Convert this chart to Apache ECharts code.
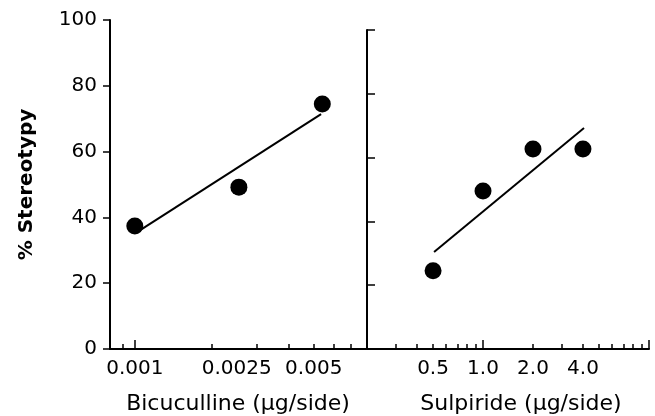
<!DOCTYPE html>
<html>
<head>
<meta charset="utf-8">
<title>% Stereotypy</title>
<script src="https://cdn.jsdelivr.net/npm/echarts@6/dist/echarts.min.js"></script>
<style>html,body{margin:0;background:#fff}#main{width:655px;height:416px}</style>
</head>
<body>
<div id="main"></div>
<script>
// bicuculline panel
var bicDose = [0.001, 0.00255, 0.0054];
var bicStereo = [37.4, 49.2, 74.5];
var bicFitDose = [0.00101, 0.00534];
var bicFitStereo = [35.3, 71.4];
var bicLabels = [0.001, 0.0025, 0.005];
var bicMinorTicks = [0.0009, 0.002, 0.003, 0.004, 0.005, 0.006, 0.007];
var bicMajorTicks = [0.001];
// sulpiride panel
var sulDose = [0.5, 1.0, 2.0, 4.0];
var sulStereo = [24.5, 49.5, 62.7, 62.7];
var sulFitDose = [0.507, 4.06];
var sulFitStereo = [30.4, 69.3];
var sulLabels = [0.5, 1.0, 2.0, 4.0];
var sulMinorTicks = [0.3, 0.4, 0.5, 0.6, 0.7, 0.8, 0.9, 2, 3, 4, 5, 6, 7, 8, 9];
var sulMajorTicks = [1, 10];

var FONT = 'DejaVu Sans';

function pairs(xs, ys) {
	var out = [];
	for (var i = 0; i < xs.length; i++) {
		out.push([xs[i], ys[i]]);
	}
	return out;
}

// x axis with line, labels and short ticks
function mainX(grid, min, max, labels, ticks, fmt) {
	return {
		type: 'log', logBase: 10, gridIndex: grid, min: min, max: max, position: 'bottom',
		axisLine: {show: true, lineStyle: {color: '#000', width: 2}},
		axisTick: {show: true, inside: true, length: 5, customValues: ticks,
			lineStyle: {color: '#000', width: 1.5}},
		axisLabel: {show: true, customValues: labels, margin: 10, color: '#000',
			fontFamily: FONT, fontSize: 20, formatter: fmt},
		splitLine: {show: false}
	};
}
// overlay axis only for the long ticks
function majorX(grid, min, max, ticks) {
	return {
		type: 'log', logBase: 10, gridIndex: grid, min: min, max: max, position: 'bottom',
		axisLine: {show: false},
		axisTick: {show: true, inside: true, length: 9, customValues: ticks,
			lineStyle: {color: '#000', width: 1.5}},
		axisLabel: {show: false},
		splitLine: {show: false}
	};
}

var chart = echarts.init(document.getElementById('main'), null, {renderer: 'canvas'});

var option = {
	backgroundColor: '#fff',
	animation: false,
	grid: [
		{left: 110, top: 20, width: 256, height: 329, containLabel: false, outerBoundsMode: 'none'},
		{left: 367, top: 30, width: 282, height: 319, containLabel: false, outerBoundsMode: 'none'}
	],
	xAxis: [
		Object.assign(mainX(0, 0.0008, 0.008, bicLabels, bicMinorTicks, function (v) {
			return String(+v.toPrecision(2));
		}), {
			name: 'Bicuculline (\u03bcg/side)', nameLocation: 'middle', nameGap: 44,
			nameTextStyle: {color: '#000', fontFamily: FONT, fontSize: 22}
		}),
		majorX(0, 0.0008, 0.008, bicMajorTicks),
		Object.assign(mainX(1, 0.2, 10, sulLabels, sulMinorTicks, function (v) {
			return (+v).toFixed(1);
		}), {
			name: 'Sulpiride (\u03bcg/side)', nameLocation: 'middle', nameGap: 44,
			nameTextStyle: {color: '#000', fontFamily: FONT, fontSize: 22, padding: [0, 0, 0, 26]}
		}),
		majorX(1, 0.2, 10, sulMajorTicks)
	],
	yAxis: [
		{
			type: 'value', gridIndex: 0, min: 0, max: 100, interval: 20,
			name: '% Stereotypy', nameLocation: 'middle', nameGap: 73, nameRotate: 90,
			nameTextStyle: {color: '#000', fontFamily: FONT, fontSize: 20, fontWeight: 'bold'},
			axisLine: {show: true, lineStyle: {color: '#000', width: 2}},
			axisTick: {show: true, length: 7, lineStyle: {color: '#000', width: 1.5}},
			axisLabel: {color: '#000', fontFamily: FONT, fontSize: 20, margin: 13},
			splitLine: {show: false}
		},
		{
			type: 'value', gridIndex: 1, min: 0, max: 100, interval: 20,
			axisLine: {show: true, lineStyle: {color: '#000', width: 2}},
			axisTick: {show: true, inside: true, length: 8, lineStyle: {color: '#000', width: 1.5}},
			axisLabel: {show: false},
			splitLine: {show: false}
		}
	],
	series: [
		{
			type: 'scatter', xAxisIndex: 0, yAxisIndex: 0,
			symbol: 'circle', symbolSize: 17,
			itemStyle: {color: '#000', opacity: 1},
			data: pairs(bicDose, bicStereo)
		},
		{
			type: 'line', xAxisIndex: 0, yAxisIndex: 0,
			symbol: 'none', lineStyle: {color: '#000', width: 2},
			data: pairs(bicFitDose, bicFitStereo)
		},
		{
			type: 'scatter', xAxisIndex: 2, yAxisIndex: 1,
			symbol: 'circle', symbolSize: 17,
			itemStyle: {color: '#000', opacity: 1},
			data: pairs(sulDose, sulStereo)
		},
		{
			type: 'line', xAxisIndex: 2, yAxisIndex: 1,
			symbol: 'none', lineStyle: {color: '#000', width: 2},
			data: pairs(sulFitDose, sulFitStereo)
		}
	]
};
chart.setOption(option);
</script>
</body>
</html>
